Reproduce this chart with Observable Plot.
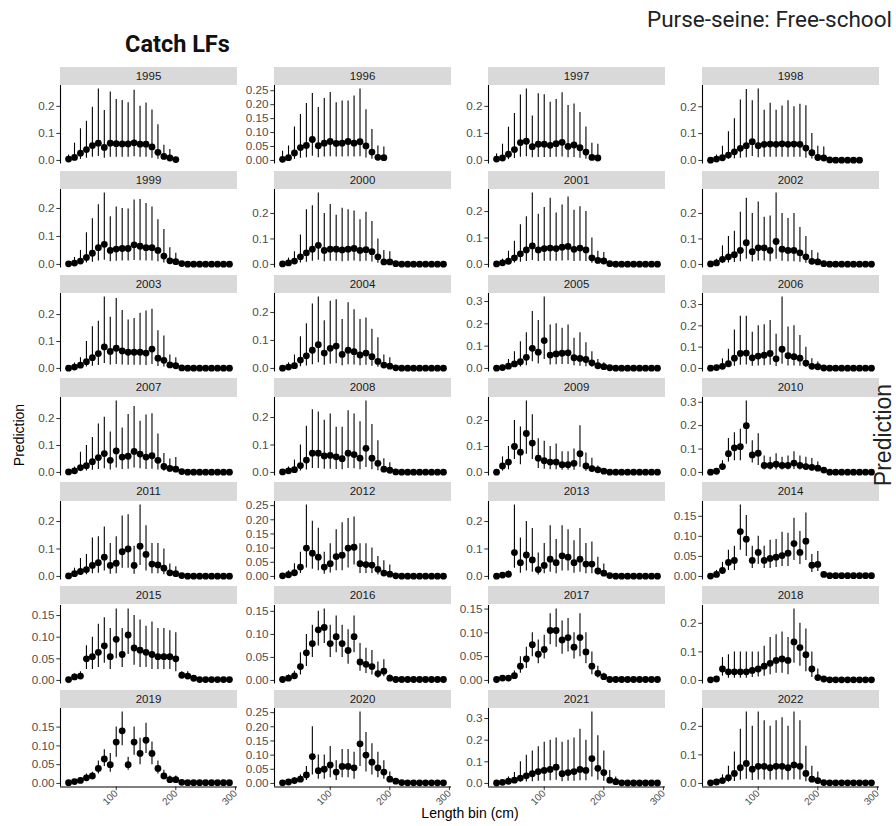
<!DOCTYPE html>
<html><head><meta charset="utf-8">
<script src="https://cdn.jsdelivr.net/npm/d3@7"></script>
<script src="https://cdn.jsdelivr.net/npm/@observablehq/plot@0.6"></script>
<style>
body{margin:0;background:#fff;}
#fig{position:relative;width:896px;height:826px;overflow:hidden;font-family:"Liberation Sans",Arial,sans-serif;background:#fff;}
.strip{position:absolute;background:#d9d9d9;color:#1a1a1a;font-size:11.5px;text-align:center;line-height:18.3px;height:18.3px;}
.panel{position:absolute;}
.lbl{position:absolute;white-space:nowrap;}
</style></head><body><div id="fig"></div>
<script>
const years = [1995,1996,1997,1998,1999,2000,2001,2002,2003,2004,2005,2006,2007,2008,2009,2010,2011,2012,2013,2014,2015,2016,2017,2018,2019,2020,2021,2022];
const lengthBins = [20,30,40,50,60,70,80,90,100,110,120,130,140,150,160,170,180,190,200,210,220,230,240,250,260,270,280,290];
const xTicks = [100,200,300];
const yTickStep = [0.1,0.05,0.1,0.1, 0.1,0.1,0.1,0.1, 0.1,0.1,0.1,0.1, 0.1,0.1,0.1,0.1, 0.1,0.05,0.1,0.05, 0.05,0.05,0.05,0.1, 0.05,0.05,0.1,0.1];

const pred = [
[0.005,0.011,0.027,0.04,0.055,0.064,0.048,0.064,0.062,0.061,0.061,0.065,0.06,0.06,0.05,0.03,0.015,0.009,0.003],
[0.004,0.01,0.027,0.046,0.054,0.075,0.053,0.062,0.068,0.061,0.062,0.068,0.062,0.067,0.052,0.03,0.011,0.01],
[0.005,0.009,0.023,0.04,0.066,0.071,0.051,0.06,0.06,0.056,0.062,0.067,0.052,0.057,0.047,0.031,0.011,0.009],
[0.001,0.005,0.01,0.02,0.032,0.045,0.055,0.07,0.055,0.06,0.061,0.06,0.062,0.06,0.061,0.06,0.046,0.029,0.011,0.009,0.002,0.001,0.001,0.001,0.001,0.001],
[0.002,0.005,0.012,0.025,0.04,0.06,0.072,0.05,0.055,0.057,0.057,0.07,0.065,0.06,0.06,0.05,0.03,0.013,0.01,0.003,0.001,0.001,0.001,0.001,0.001,0.001,0.001,0.001],
[0.002,0.006,0.013,0.03,0.045,0.06,0.075,0.055,0.06,0.06,0.057,0.06,0.063,0.055,0.058,0.05,0.03,0.01,0.01,0.003,0.001,0.001,0.001,0.001,0.001,0.001,0.001,0.001],
[0.002,0.006,0.012,0.025,0.04,0.055,0.07,0.055,0.06,0.062,0.06,0.065,0.068,0.057,0.062,0.055,0.025,0.015,0.013,0.003,0.001,0.001,0.001,0.001,0.001,0.001,0.001,0.001],
[0.002,0.006,0.02,0.03,0.038,0.055,0.085,0.05,0.065,0.065,0.055,0.09,0.06,0.055,0.055,0.045,0.03,0.012,0.01,0.003,0.001,0.001,0.001,0.001,0.001,0.001,0.001,0.001],
[0.001,0.005,0.012,0.025,0.04,0.055,0.08,0.063,0.075,0.065,0.06,0.06,0.06,0.057,0.072,0.038,0.03,0.013,0.01,0.002,0.001,0.001,0.001,0.001,0.001,0.001,0.001,0.001],
[0.001,0.005,0.01,0.03,0.045,0.065,0.085,0.055,0.072,0.08,0.05,0.065,0.06,0.048,0.055,0.042,0.025,0.012,0.008,0.002,0.001,0.001,0.001,0.001,0.001,0.001,0.001,0.001],
[0.001,0.004,0.01,0.02,0.03,0.05,0.09,0.073,0.125,0.06,0.065,0.068,0.07,0.048,0.045,0.04,0.025,0.012,0.008,0.003,0.001,0.001,0.001,0.001,0.001,0.001,0.001,0.001],
[0.001,0.004,0.01,0.022,0.048,0.07,0.072,0.05,0.058,0.062,0.07,0.045,0.09,0.06,0.055,0.048,0.025,0.01,0.008,0.002,0.001,0.001,0.001,0.001,0.001,0.001,0.001,0.001],
[0.002,0.006,0.018,0.025,0.04,0.055,0.07,0.045,0.08,0.057,0.06,0.078,0.068,0.057,0.062,0.045,0.022,0.015,0.012,0.003,0.001,0.001,0.001,0.001,0.001,0.001,0.001,0.001],
[0.002,0.006,0.01,0.025,0.045,0.07,0.07,0.06,0.062,0.057,0.05,0.07,0.065,0.052,0.088,0.052,0.033,0.012,0.008,0.002,0.001,0.001,0.001,0.001,0.001,0.001,0.001,0.001],
[0.001,0.025,0.04,0.1,0.078,0.15,0.113,0.055,0.045,0.04,0.04,0.03,0.03,0.035,0.072,0.025,0.015,0.01,0.005,0.001,0.001,0.001,0.001,0.001,0.001,0.001,0.001,0.001],
[0.001,0.005,0.025,0.08,0.105,0.11,0.2,0.075,0.082,0.03,0.03,0.035,0.03,0.03,0.04,0.03,0.025,0.022,0.018,0.01,0.001,0.001,0.001,0.001,0.001,0.001,0.001,0.001],
[0.002,0.01,0.018,0.025,0.04,0.05,0.07,0.04,0.048,0.09,0.1,0.04,0.11,0.08,0.045,0.042,0.03,0.013,0.01,0.003,0.001,0.001,0.001,0.001,0.001,0.001,0.001,0.001],
[0.002,0.006,0.013,0.033,0.1,0.082,0.068,0.033,0.045,0.07,0.075,0.1,0.103,0.045,0.042,0.04,0.025,0.012,0.008,0.002,0.001,0.001,0.001,0.001,0.001,0.001,0.001,0.001],
[0.001,0.005,0.008,0.087,0.05,0.078,0.06,0.025,0.04,0.063,0.05,0.075,0.07,0.05,0.063,0.045,0.045,0.02,0.012,0.003,0.001,0.001,0.001,0.001,0.001,0.001,0.001,0.001],
[0.001,0.005,0.015,0.035,0.04,0.112,0.093,0.04,0.06,0.04,0.045,0.048,0.052,0.058,0.082,0.06,0.088,0.028,0.03,0.005,0.002,0.002,0.002,0.002,0.002,0.002,0.002,0.002],
[0.002,0.008,0.01,0.05,0.055,0.065,0.08,0.055,0.095,0.06,0.105,0.075,0.07,0.065,0.06,0.055,0.055,0.055,0.05,0.012,0.01,0.005,0.002,0.002,0.002,0.002,0.002,0.002],
[0.002,0.005,0.01,0.03,0.06,0.08,0.11,0.115,0.08,0.095,0.08,0.065,0.095,0.04,0.035,0.03,0.015,0.02,0.005,0.002,0.002,0.002,0.002,0.002,0.002,0.002,0.002,0.002],
[0.002,0.005,0.005,0.01,0.03,0.045,0.075,0.055,0.065,0.105,0.105,0.085,0.09,0.07,0.09,0.06,0.03,0.015,0.008,0.002,0.002,0.002,0.002,0.002,0.002,0.002,0.002,0.002],
[0.002,0.005,0.04,0.03,0.03,0.03,0.03,0.035,0.04,0.05,0.06,0.07,0.075,0.07,0.135,0.115,0.09,0.04,0.01,0.005,0.002,0.002,0.002,0.002,0.002,0.002,0.002,0.002],
[0.002,0.005,0.008,0.015,0.02,0.04,0.065,0.05,0.11,0.14,0.05,0.11,0.08,0.115,0.08,0.04,0.02,0.01,0.01,0.003,0.002,0.002,0.002,0.002,0.002,0.002,0.002,0.002],
[0.002,0.005,0.01,0.015,0.03,0.095,0.045,0.05,0.065,0.04,0.06,0.06,0.055,0.14,0.1,0.075,0.055,0.04,0.015,0.008,0.003,0.002,0.002,0.002,0.002,0.002,0.002,0.002],
[0.002,0.005,0.01,0.015,0.025,0.035,0.045,0.055,0.06,0.065,0.075,0.045,0.05,0.055,0.065,0.06,0.115,0.07,0.05,0.015,0.008,0.003,0.002,0.002,0.002,0.002,0.002,0.002],
[0.002,0.005,0.01,0.02,0.035,0.055,0.07,0.05,0.06,0.06,0.055,0.06,0.06,0.055,0.065,0.06,0.035,0.015,0.01,0.003,0.002,0.002,0.002,0.002,0.002,0.002,0.002,0.002]
];

const upper = [
[0.02,0.064,0.117,0.145,0.197,0.264,0.185,0.253,0.225,0.222,0.213,0.26,0.2,0.212,0.187,0.132,0.056,0.04,0.009],
[0.033,0.052,0.12,0.165,0.204,0.24,0.19,0.222,0.244,0.207,0.213,0.213,0.231,0.256,0.182,0.111,0.052,0.048],
[0.024,0.06,0.123,0.174,0.242,0.264,0.164,0.247,0.243,0.215,0.225,0.25,0.203,0.209,0.177,0.124,0.064,0.06],
[0.005,0.02,0.053,0.107,0.155,0.225,0.264,0.222,0.266,0.187,0.213,0.187,0.203,0.222,0.2,0.209,0.204,0.1,0.053,0.05,0.006,0.003,0.002,0.002,0.002,0.002],
[0.006,0.025,0.05,0.113,0.163,0.213,0.255,0.17,0.205,0.2,0.198,0.23,0.232,0.218,0.205,0.16,0.125,0.06,0.04,0.01,0.003,0.002,0.002,0.002,0.002,0.002,0.002,0.002],
[0.01,0.025,0.05,0.115,0.215,0.23,0.28,0.2,0.235,0.193,0.22,0.215,0.21,0.175,0.205,0.168,0.1,0.055,0.05,0.01,0.003,0.002,0.002,0.002,0.002,0.002,0.002,0.002],
[0.006,0.02,0.05,0.088,0.15,0.18,0.27,0.19,0.215,0.25,0.195,0.225,0.255,0.205,0.218,0.2,0.1,0.05,0.045,0.01,0.002,0.002,0.002,0.002,0.002,0.002,0.002,0.002],
[0.006,0.02,0.073,0.11,0.13,0.205,0.26,0.2,0.245,0.185,0.19,0.28,0.2,0.18,0.2,0.145,0.11,0.055,0.045,0.01,0.002,0.002,0.002,0.002,0.002,0.002,0.002,0.002],
[0.005,0.02,0.04,0.1,0.155,0.175,0.265,0.19,0.26,0.215,0.18,0.185,0.205,0.213,0.22,0.14,0.12,0.05,0.04,0.006,0.002,0.002,0.002,0.002,0.002,0.002,0.002,0.002],
[0.005,0.02,0.048,0.113,0.16,0.23,0.255,0.17,0.24,0.245,0.175,0.235,0.21,0.175,0.18,0.14,0.11,0.048,0.038,0.006,0.002,0.002,0.002,0.002,0.002,0.002,0.002,0.002],
[0.004,0.015,0.04,0.075,0.12,0.16,0.255,0.215,0.32,0.195,0.2,0.18,0.195,0.135,0.16,0.115,0.075,0.04,0.025,0.01,0.002,0.002,0.002,0.002,0.002,0.002,0.002,0.002],
[0.004,0.015,0.045,0.09,0.18,0.245,0.245,0.17,0.2,0.205,0.225,0.16,0.335,0.195,0.2,0.155,0.1,0.045,0.03,0.006,0.002,0.002,0.002,0.002,0.002,0.002,0.002,0.002],
[0.006,0.02,0.075,0.1,0.13,0.18,0.205,0.15,0.265,0.165,0.215,0.245,0.19,0.213,0.218,0.143,0.07,0.05,0.055,0.01,0.002,0.002,0.002,0.002,0.002,0.002,0.002,0.002],
[0.006,0.02,0.045,0.1,0.168,0.228,0.22,0.19,0.213,0.165,0.165,0.225,0.213,0.185,0.26,0.175,0.115,0.05,0.035,0.006,0.002,0.002,0.002,0.002,0.002,0.002,0.002,0.002],
[0.003,0.06,0.1,0.2,0.175,0.275,0.222,0.13,0.12,0.1,0.11,0.08,0.08,0.09,0.18,0.075,0.055,0.025,0.015,0.002,0.002,0.002,0.002,0.002,0.002,0.002,0.002,0.002],
[0.003,0.01,0.05,0.145,0.17,0.185,0.305,0.135,0.165,0.07,0.065,0.08,0.065,0.07,0.088,0.07,0.065,0.06,0.045,0.02,0.002,0.002,0.002,0.002,0.002,0.002,0.002,0.002],
[0.006,0.03,0.065,0.08,0.14,0.145,0.18,0.12,0.145,0.22,0.225,0.11,0.26,0.185,0.12,0.12,0.1,0.045,0.035,0.01,0.002,0.002,0.002,0.002,0.002,0.002,0.002,0.002],
[0.006,0.02,0.045,0.085,0.252,0.195,0.17,0.085,0.115,0.165,0.19,0.205,0.21,0.115,0.115,0.1,0.07,0.055,0.04,0.006,0.002,0.002,0.002,0.002,0.002,0.002,0.002,0.002],
[0.003,0.01,0.02,0.26,0.14,0.2,0.175,0.085,0.12,0.185,0.135,0.185,0.17,0.13,0.175,0.12,0.125,0.07,0.045,0.01,0.002,0.002,0.002,0.002,0.002,0.002,0.002,0.002],
[0.004,0.015,0.035,0.065,0.075,0.178,0.152,0.075,0.1,0.075,0.09,0.092,0.11,0.108,0.145,0.112,0.158,0.055,0.062,0.01,0.003,0.003,0.003,0.003,0.003,0.003,0.003,0.003],
[0.005,0.015,0.02,0.08,0.1,0.13,0.145,0.12,0.165,0.12,0.165,0.15,0.14,0.125,0.135,0.12,0.12,0.115,0.11,0.02,0.02,0.01,0.004,0.004,0.004,0.004,0.004,0.004],
[0.005,0.012,0.02,0.06,0.1,0.12,0.15,0.155,0.12,0.14,0.12,0.11,0.14,0.08,0.07,0.065,0.04,0.045,0.012,0.004,0.004,0.004,0.004,0.004,0.004,0.004,0.004,0.004],
[0.005,0.01,0.01,0.02,0.05,0.07,0.1,0.085,0.095,0.14,0.15,0.125,0.13,0.1,0.14,0.1,0.06,0.03,0.015,0.004,0.004,0.004,0.004,0.004,0.004,0.004,0.004,0.004],
[0.005,0.012,0.08,0.09,0.1,0.1,0.1,0.1,0.1,0.12,0.15,0.16,0.17,0.15,0.25,0.2,0.18,0.1,0.04,0.012,0.004,0.004,0.004,0.004,0.004,0.004,0.004,0.004],
[0.004,0.01,0.015,0.025,0.03,0.06,0.09,0.08,0.15,0.19,0.07,0.15,0.12,0.16,0.11,0.06,0.035,0.02,0.02,0.006,0.004,0.004,0.004,0.004,0.004,0.004,0.004,0.004],
[0.005,0.012,0.02,0.03,0.06,0.2,0.1,0.1,0.13,0.08,0.12,0.12,0.11,0.252,0.18,0.14,0.11,0.08,0.04,0.016,0.006,0.004,0.004,0.004,0.004,0.004,0.004,0.004],
[0.005,0.012,0.03,0.05,0.1,0.13,0.15,0.17,0.19,0.2,0.21,0.19,0.2,0.21,0.25,0.2,0.33,0.22,0.15,0.06,0.03,0.006,0.004,0.004,0.004,0.004,0.004,0.004],
[0.005,0.012,0.03,0.06,0.11,0.19,0.25,0.2,0.25,0.22,0.2,0.22,0.23,0.2,0.25,0.22,0.13,0.06,0.04,0.008,0.004,0.004,0.004,0.004,0.004,0.004,0.004,0.004]
];

const lower = [
[0,0.001,0.004,0.008,0.012,0.015,0.008,0.012,0.012,0.012,0.012,0.014,0.012,0.012,0.008,0.004,0.002,0.001,0],
[0,0.001,0.004,0.008,0.01,0.015,0.01,0.012,0.013,0.012,0.012,0.013,0.012,0.013,0.009,0.004,0.001,0.001],
[0,0.001,0.003,0.007,0.012,0.014,0.01,0.011,0.011,0.011,0.012,0.013,0.01,0.011,0.008,0.004,0.001,0.001],
[0,0.001,0.002,0.004,0.006,0.008,0.01,0.015,0.01,0.012,0.012,0.012,0.012,0.012,0.012,0.012,0.008,0.005,0.001,0.001,0,0,0,0,0,0],
[0,0.001,0.002,0.005,0.008,0.012,0.015,0.01,0.011,0.012,0.012,0.014,0.013,0.012,0.012,0.01,0.005,0.002,0.001,0,0,0,0,0,0,0,0,0],
[0,0.001,0.002,0.006,0.009,0.012,0.016,0.011,0.012,0.012,0.011,0.012,0.013,0.011,0.012,0.01,0.005,0.002,0.001,0,0,0,0,0,0,0,0,0],
[0,0.001,0.002,0.005,0.008,0.011,0.015,0.011,0.012,0.012,0.012,0.013,0.014,0.011,0.012,0.011,0.004,0.002,0.001,0,0,0,0,0,0,0,0,0],
[0,0.001,0.004,0.006,0.008,0.011,0.02,0.01,0.013,0.013,0.011,0.02,0.012,0.011,0.011,0.009,0.005,0.002,0.001,0,0,0,0,0,0,0,0,0],
[0,0.001,0.002,0.005,0.008,0.011,0.018,0.013,0.015,0.013,0.012,0.012,0.012,0.011,0.015,0.007,0.005,0.002,0.001,0,0,0,0,0,0,0,0,0],
[0,0.001,0.002,0.006,0.009,0.013,0.02,0.011,0.015,0.017,0.01,0.013,0.012,0.01,0.011,0.008,0.004,0.002,0.001,0,0,0,0,0,0,0,0,0],
[0,0.001,0.002,0.004,0.006,0.012,0.03,0.02,0.04,0.015,0.016,0.018,0.018,0.012,0.01,0.008,0.005,0.002,0.001,0,0,0,0,0,0,0,0,0],
[0,0.001,0.002,0.004,0.01,0.015,0.016,0.01,0.012,0.013,0.015,0.009,0.02,0.012,0.011,0.01,0.005,0.002,0.001,0,0,0,0,0,0,0,0,0],
[0,0.001,0.003,0.005,0.008,0.011,0.014,0.009,0.016,0.011,0.012,0.016,0.014,0.011,0.012,0.009,0.004,0.002,0.001,0,0,0,0,0,0,0,0,0],
[0,0.001,0.002,0.005,0.009,0.014,0.014,0.012,0.012,0.011,0.01,0.014,0.013,0.01,0.018,0.01,0.006,0.002,0.001,0,0,0,0,0,0,0,0,0],
[0,0.005,0.01,0.05,0.03,0.07,0.05,0.015,0.012,0.01,0.01,0.008,0.008,0.008,0.02,0.005,0.003,0.002,0.001,0,0,0,0,0,0,0,0,0],
[0,0.001,0.01,0.045,0.05,0.05,0.12,0.04,0.03,0.01,0.01,0.01,0.01,0.01,0.012,0.01,0.008,0.006,0.005,0.003,0,0,0,0,0,0,0,0],
[0,0.002,0.004,0.006,0.01,0.012,0.02,0.008,0.01,0.03,0.03,0.008,0.04,0.02,0.01,0.01,0.006,0.002,0.001,0,0,0,0,0,0,0,0,0],
[0,0.001,0.003,0.01,0.03,0.025,0.02,0.008,0.012,0.02,0.02,0.03,0.04,0.01,0.01,0.01,0.005,0.002,0.001,0,0,0,0,0,0,0,0,0],
[0,0.001,0.002,0.03,0.012,0.02,0.015,0.005,0.01,0.015,0.01,0.02,0.02,0.012,0.015,0.01,0.01,0.004,0.002,0,0,0,0,0,0,0,0,0],
[0,0.001,0.005,0.015,0.015,0.065,0.05,0.02,0.03,0.02,0.02,0.022,0.025,0.025,0.04,0.03,0.04,0.01,0.012,0.002,0,0,0,0,0,0,0,0],
[0,0.003,0.004,0.025,0.025,0.03,0.04,0.025,0.05,0.03,0.06,0.035,0.03,0.03,0.025,0.025,0.025,0.025,0.02,0.005,0.004,0.002,0,0,0,0,0,0],
[0,0.002,0.004,0.012,0.03,0.05,0.075,0.08,0.05,0.06,0.05,0.035,0.06,0.02,0.015,0.012,0.005,0.008,0.001,0,0,0,0,0,0,0,0,0],
[0,0.002,0.002,0.004,0.015,0.025,0.05,0.035,0.045,0.075,0.07,0.055,0.06,0.045,0.05,0.035,0.012,0.005,0.002,0,0,0,0,0,0,0,0,0],
[0,0.001,0.015,0.008,0.008,0.008,0.008,0.01,0.012,0.015,0.02,0.025,0.025,0.02,0.06,0.05,0.03,0.01,0.002,0,0,0,0,0,0,0,0,0],
[0,0.002,0.003,0.008,0.01,0.025,0.045,0.03,0.07,0.1,0.035,0.075,0.05,0.08,0.05,0.025,0.01,0.004,0.004,0,0,0,0,0,0,0,0,0],
[0,0.001,0.003,0.005,0.01,0.03,0.015,0.015,0.02,0.01,0.02,0.02,0.015,0.06,0.04,0.03,0.02,0.015,0.004,0.002,0,0,0,0,0,0,0,0],
[0,0.001,0.002,0.003,0.005,0.007,0.008,0.01,0.01,0.012,0.015,0.008,0.01,0.01,0.012,0.012,0.03,0.015,0.01,0.003,0.001,0,0,0,0,0,0,0],
[0,0.001,0.002,0.004,0.007,0.011,0.015,0.01,0.012,0.012,0.011,0.012,0.012,0.011,0.013,0.012,0.006,0.002,0.001,0,0,0,0,0,0,0,0,0]
];

const fig = document.getElementById("fig");
const PW = 177, PH = 78.5, ML = 44;
const colX = [60, 274, 488, 702];
const rowTop = [66.7, 170.6, 274.5, 378.4, 482.3, 586.2, 690.1];
const STRIP = 18.3;

function addLabel(text, css){
  const d = document.createElement("div");
  d.className = "lbl";
  d.textContent = text;
  Object.assign(d.style, css);
  fig.appendChild(d);
  return d;
}

years.forEach((yr, i) => {
  const col = i % 4, row = Math.floor(i / 4);
  const bottomRow = row === 6;
  const x0 = colX[col], top = rowTop[row];
  const s = document.createElement("div");
  s.className = "strip";
  s.style.left = x0 + "px"; s.style.top = top + "px"; s.style.width = PW + "px";
  s.textContent = yr;
  fig.appendChild(s);

  const data = pred[i].map((p, j) => ({len: lengthBins[j], p, lo: lower[i][j], hi: upper[i][j]}));
  const ymin = Math.min(d3.min(lower[i]), d3.min(pred[i]));
  const ymax = Math.max(d3.max(upper[i]), d3.max(pred[i]));
  const pad = (ymax - ymin) * 0.05;
  const step = yTickStep[i];
  const yt = d3.range(0, ymax + 1e-9, step).map(v => +v.toFixed(4));
  const dec = step < 0.1 ? 2 : 1;
  const xmin = lengthBins[0], xmax = lengthBins[lengthBins.length - 1];
  const xpad = (xmax - xmin) * 0.05;
  const MB = bottomRow ? 32 : 0;
  const marks = [
    Plot.ruleX(data, {x: "len", y1: "lo", y2: "hi", stroke: "#000", strokeWidth: 1.1}),
    Plot.dot(data, {x: "len", y: "p", r: 3.4, fill: "#000", stroke: "none"}),
    Plot.axisY({ticks: yt, tickSize: 3.7, tickPadding: 2.2, tickFormat: d => d.toFixed(dec), fontSize: 11.7, color: "#333", fill: "#4d4d4d"}),
    Plot.ruleX([xmin - xpad], {stroke: "#000", strokeWidth: 1.1})
  ];
  if (bottomRow) {
    marks.push(Plot.axisX({ticks: xTicks, tickSize: 3.7, tickRotate: -45, tickPadding: 1, fontSize: 10, color: "#333", fill: "#4d4d4d"}));
    marks.push(Plot.ruleY([ymin - pad], {stroke: "#000", strokeWidth: 1.1}));
  } else {
    marks.push(Plot.axisX({ticks: [], label: null}));
  }
  const svg = Plot.plot({
    width: PW + ML, height: PH + MB,
    marginLeft: ML, marginRight: 0, marginTop: 0, marginBottom: MB,
    style: {background: "transparent", fontFamily: "'Liberation Sans', Arial, sans-serif", overflow: "visible"},
    x: {domain: [xmin - xpad, xmax + xpad], label: null},
    y: {domain: [ymin - pad, ymax + pad], label: null},
    marks
  });
  const wrap = document.createElement("div");
  wrap.className = "panel";
  wrap.style.left = (x0 - ML) + "px";
  wrap.style.top = (top + STRIP) + "px";
  wrap.appendChild(svg);
  fig.appendChild(wrap);
});

addLabel("Catch LFs", {left: "125px", top: "30px", fontFamily: "Roboto, sans-serif", fontWeight: "bold", fontSize: "23.5px", color: "#111"});
addLabel("Purse-seine: Free-school", {left: "647px", top: "6px", fontFamily: "Roboto, sans-serif", fontSize: "22.5px", color: "#222"});
addLabel("Length bin (cm)", {left: "470px", top: "805px", transform: "translateX(-50%)", fontSize: "14px", color: "#000"});
addLabel("Prediction", {left: "19px", top: "435px", transform: "translate(-50%,-50%) rotate(-90deg)", fontSize: "14px", color: "#000"});
addLabel("Prediction", {left: "883px", top: "435px", transform: "translate(-50%,-50%) rotate(-90deg)", fontSize: "23px", color: "#222"});
</script></body></html>
